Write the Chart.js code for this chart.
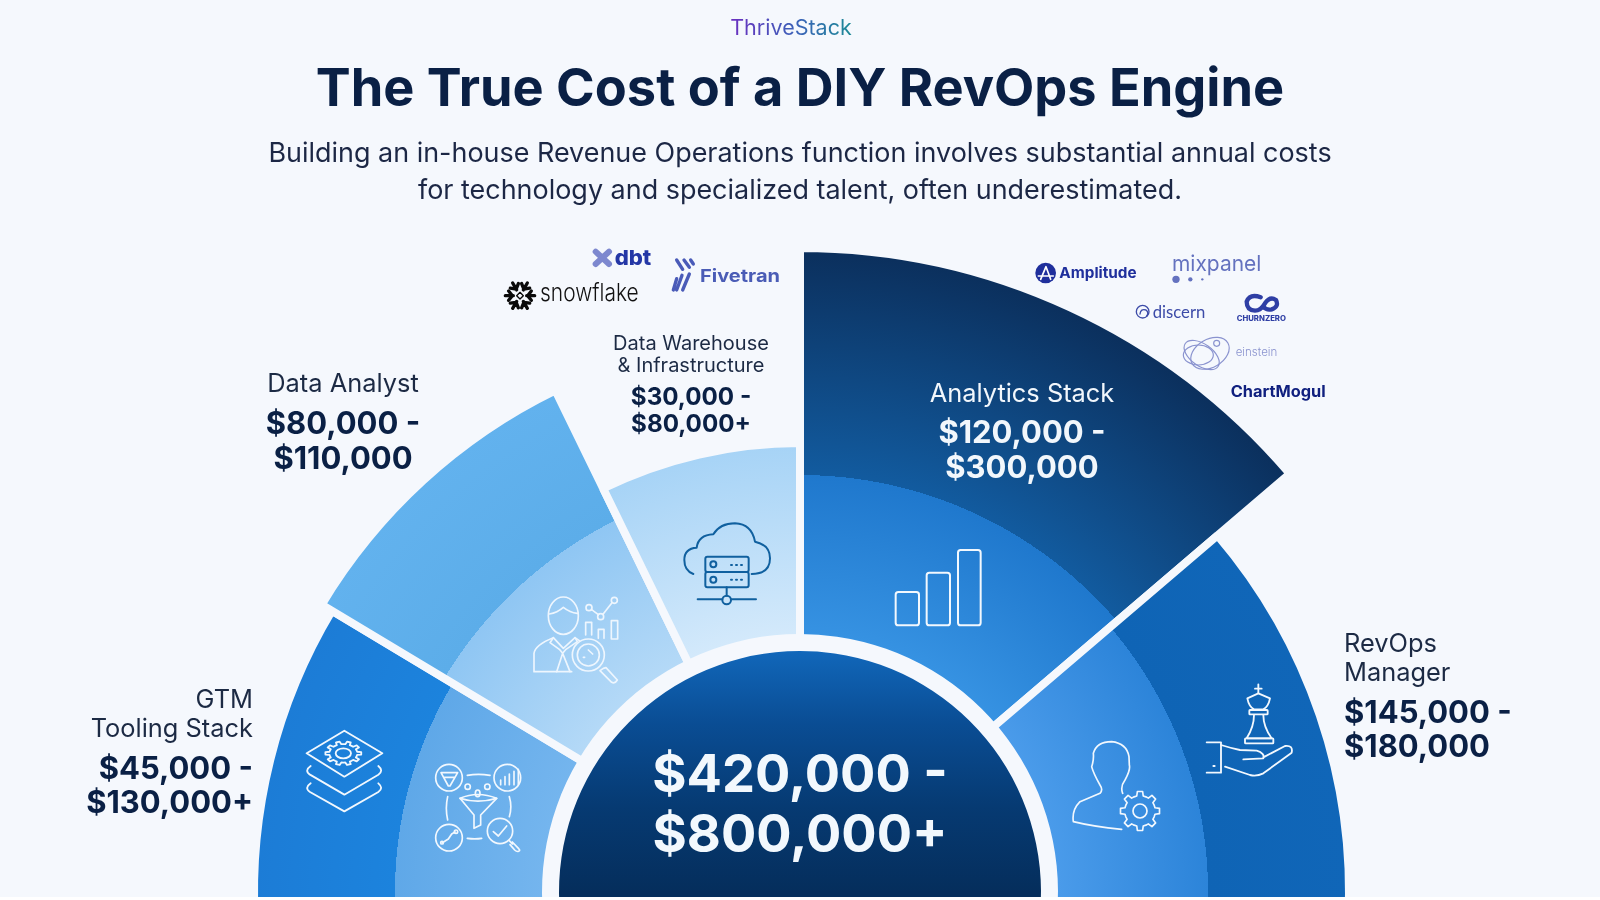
<!DOCTYPE html>
<html>
<head>
<meta charset="utf-8">
<title>The True Cost of a DIY RevOps Engine</title>
<script src="https://cdn.jsdelivr.net/npm/chart.js@4"></script>
<style>
  html, body { margin: 0; width: 1600px; height: 900px; overflow: hidden; background: #fff; font-family: Inter, sans-serif; }
  #page { position: absolute; left: 0; top: 0; width: 1600px; height: 897px; overflow: hidden; background: #f5f8fd; }
  #fan { position: absolute; left: 0; top: 0; }
  #art { position: absolute; left: 0; top: 0; }
  .t { position: absolute; white-space: nowrap; line-height: 1; color: #0a2045; }
  .mid { transform: translate(-50%, -50%); text-align: center; }
  .end { transform: translate(-100%, -50%); text-align: right; }
  .start { transform: translateY(-50%); }
  #brand { left: 791px; top: 28px; font-size: 21.5px; background: linear-gradient(90deg, #6a2fc0, #3a62b8 55%, #1c8a96);
    -webkit-background-clip: text; background-clip: text; color: transparent; }
  #title { left: 800px; top: 87px; font-size: 52.3px; font-weight: 700; }
  .sub { font-size: 26.95px; color: #1c2745; }
  .name { font-size: 25.4px; color: #1c2a44; }
  .cost { font-size: 31px; font-weight: 700; }
  .small.name { font-size: 20px; }
  .small.cost { font-size: 24.2px; }
  .light { color: #f2f7fc; }
  .total { font-size: 52.4px; font-weight: 700; color: #f2f8fd; }
</style>
</head>
<body>
<div id="page">
  <canvas id="fan" width="1600" height="1784"></canvas>
  <svg id="art" width="1600" height="897" viewBox="0 0 1600 897" fill="none"></svg>
  <div id="brand" class="t mid">ThriveStack</div>
  <div id="title" class="t mid">The True Cost of a DIY RevOps Engine</div>
  <div class="t mid sub" style="left:800px;top:153px">Building an in-house Revenue Operations function involves substantial annual costs</div>
  <div class="t mid sub" style="left:800px;top:190px">for technology and specialized talent, often underestimated.</div>
  <div class="t mid total" style="left:800px;top:773px">$420,000 -</div>
  <div class="t mid total" style="left:800px;top:833px">$800,000+</div>
</div>
<script>
const categories = ['GTM Tooling Stack', 'Data Analyst', 'Data Warehouse & Infrastructure', 'Analytics Stack', 'RevOps Manager'];
const costLow = ['$45,000 -', '$80,000 -', '$30,000 -', '$120,000 -', '$145,000 -'];
const costHigh = ['$130,000+', '$110,000', '$80,000+', '$300,000', '$180,000'];
// how far each slice reaches, and where its inner band stops
const reach = [546, 558, 449, 644, 549];
const bandReach = [405, 415, 0, 417, 408];
// angular width of each slice in degrees, left to right
const span = [34, 33, 26, 49.5, 43.5];
const totalDisc = [241];
const haloDisc = [258];

const innerColors = [['#74b5ee', '#5fa8e8'], ['#b4d9f7', '#8fc6f3'], null, ['#3692e2', '#1f78cd'], ['#4a9bea', '#2c84d9']];
const outerColors = [['#1c83dd', '#1c7cd6'], ['#5cade9', '#62b2ee'], ['#d3e9fb', '#a6d3f6'], ['#125b9f', '#0b2f5c'], ['#0f64b5', '#1066b8']];
const gapColor = '#f5f8fd';

function scaleReady(r) {
  return r && Number.isFinite(r.yCenter) && r.drawingArea > 0;
}

function sliceFill(ctx) {
  const r = ctx.chart.scales.r;
  if (!scaleReady(r) || ctx.dataIndex === undefined) return '#888';
  const i = ctx.dataIndex;
  const dist = v => r.getDistanceFromCenterForValue(v);
  const outerR = dist(reach[i]);
  const g = ctx.chart.ctx.createRadialGradient(r.xCenter, r.yCenter, 0, r.xCenter, r.yCenter, outerR);
  const haloStop = dist(haloDisc[0]) / outerR;
  if (innerColors[i]) {
    const stop = dist(bandReach[i]) / outerR;
    g.addColorStop(haloStop, innerColors[i][0]);
    g.addColorStop(stop, innerColors[i][1]);
    g.addColorStop(stop, outerColors[i][0]);
    g.addColorStop(1, outerColors[i][1]);
  } else {
    g.addColorStop(haloStop, outerColors[i][0]);
    g.addColorStop(1, outerColors[i][1]);
  }
  return g;
}

function discFill(ctx) {
  const r = ctx.chart.scales.r;
  if (!scaleReady(r)) return '#063a74';
  const top = r.yCenter - r.getDistanceFromCenterForValue(totalDisc[0]);
  const g = ctx.chart.ctx.createLinearGradient(0, top, 0, r.yCenter);
  g.addColorStop(0, '#1167ba');
  g.addColorStop(0.3, '#0a4d94');
  g.addColorStop(0.65, '#063a72');
  g.addColorStop(1, '#052e5c');
  return g;
}

new Chart(document.getElementById('fan'), {
  type: 'polarArea',
  data: {
    labels: categories,
    datasets: [
      { data: totalDisc, angle: 360, backgroundColor: discFill, borderWidth: 0 },
      { data: haloDisc, angle: 360, backgroundColor: gapColor, borderWidth: 0 },
      { data: reach, angle: ctx => span[ctx.dataIndex], backgroundColor: sliceFill, borderColor: gapColor, borderWidth: 8 },
    ],
  },
  options: {
    responsive: false,
    animation: false,
    layout: { padding: 0 },
    plugins: { legend: { display: false }, tooltip: { enabled: false } },
    scales: {
      r: {
        display: false,
        min: 0,
        max: 800,
        startAngle: -93,
        pointLabels: { display: false },
        ticks: { display: false },
      },
    },
  },
});

// cost labels around the fan
const page = document.getElementById('page');
const spots = [
  { cls: 'end', x: 253, name: [699, 728], cost: [767, 801], lines: ['GTM', 'Tooling Stack'] },
  { cls: 'mid', x: 343, name: [383], cost: [422, 457], lines: ['Data Analyst'] },
  { cls: 'mid small', x: 691, name: [343, 365], cost: [397, 424], lines: ['Data Warehouse', '& Infrastructure'] },
  { cls: 'mid light', x: 1022, name: [393], cost: [431, 466], lines: ['Analytics Stack'] },
  { cls: 'start', x: 1344, name: [643, 672], cost: [711, 745], lines: ['RevOps', 'Manager'] },
];
function addText(text, cls, x, y) {
  const d = document.createElement('div');
  d.className = 't ' + cls;
  d.style.left = x + 'px';
  d.style.top = y + 'px';
  d.textContent = text;
  page.appendChild(d);
}
spots.forEach((s, i) => {
  s.lines.forEach((l, k) => addText(l, s.cls + ' name', s.x, s.name[k]));
  addText(costLow[i], s.cls + ' cost', s.x, s.cost[0]);
  addText(costHigh[i], s.cls + ' cost', s.x, s.cost[1]);
});

// outlined gear, squash < 1 flattens it for the isometric one
function gear(cx, cy, rOut, rIn, teeth, squash) {
  let d = '';
  const step = Math.PI * 2 / teeth;
  for (let t = 0; t < teeth; t++) {
    const a = t * step;
    const pts = [[rIn, a - step * 0.5], [rIn, a - step * 0.27], [rOut, a - step * 0.17], [rOut, a + step * 0.17], [rIn, a + step * 0.27]];
    pts.forEach(([r, an], k) => {
      d += (t === 0 && k === 0 ? 'M' : 'L') + (cx + r * Math.cos(an)).toFixed(1) + ' ' + (cy + r * squash * Math.sin(an)).toFixed(1);
    });
  }
  return d + 'Z';
}

const stackIcon = `
  <path d="M193 92L307 160L193 230L80 160Z"/>
  <path d="${gear(190, 160, 54, 42, 10, 0.66)}"/>
  <ellipse cx="190" cy="160" rx="23" ry="15"/>
  <path d="M92 198Q72 212 90 224L193 284L295 224Q312 212 295 198"/>
  <path d="M92 250Q72 264 90 276L193 334L295 276Q312 264 295 250"/>`;

const funnelIcon = `
  <circle cx="507" cy="233" r="40"/><circle cx="682" cy="233" r="40"/><circle cx="507" cy="413" r="40"/><circle cx="660" cy="393" r="38"/>
  <path d="M483 218L533 218L510 258L505 258ZM492 232L524 232"/>
  <path d="M662 240V254M675 230V254M688 222V254M702 214V254M715 208V254"/>
  <path d="M487 428L505 417L515 402L525 396"/><circle cx="486" cy="428" r="4"/><circle cx="528" cy="395" r="5"/>
  <path d="M640 395L655 408L680 378"/>
  <path d="M688 422L697 432M697 426L716 446Q722 452 716 454Q710 456 704 450L690 434"/>
  <path d="M540 295Q593 272 650 295L602 345V375L582 385V345Z"/><path d="M540 295Q593 312 650 295"/>
  <circle cx="563" cy="260" r="8"/><circle cx="622" cy="260" r="8"/><ellipse cx="593" cy="280" rx="7" ry="10"/>
  <path d="M562 226Q595 220 630 226M562 415Q585 418 605 415M503 290Q495 325 503 360M688 290Q697 320 688 350"/>`;

const analystIcon = `
  <ellipse cx="130" cy="347" rx="45" ry="56"/>
  <path d="M88 342Q112 338 130 322Q150 338 172 340"/>
  <path d="M155 515H42V460Q45 435 100 413L130 445L165 413L178 422"/>
  <path d="M118 448L128 460L110 515M138 448L128 460L150 515M100 413L90 428L118 448M165 413L172 425L138 448"/>
  <circle cx="205" cy="465" r="48"/><circle cx="205" cy="465" r="33"/>
  <path d="M250 505L240 512L275 547Q285 552 292 540L258 503Z"/>
  <path d="M214 328L235 344M249 343L276 308"/><circle cx="207" cy="323" r="9"/><circle cx="242" cy="350" r="9"/><circle cx="283" cy="301" r="9"/>
  <path d="M197 405V367H215V405M235 415V388H252V415"/><rect x="274" y="362" width="19" height="55"/>
  <path d="M205 450L218 462M190 472h4"/>`;

const cloudIcon = `
  <path d="M520 222Q493 212 493 180Q493 145 530 143Q535 105 580 103Q600 70 645 70Q695 72 705 125Q750 135 750 175Q750 222 695 222"/>
  <rect x="556" y="170" width="130" height="46" rx="6"/><rect x="556" y="216" width="130" height="46" rx="6"/>
  <circle cx="580" cy="193" r="9"/><circle cx="580" cy="239" r="9"/>
  <path d="M633 195H636M648 195H651M663 195H666M633 239H636M648 239H651M663 239H666"/>
  <path d="M620 262V287M533 298H607M634 298H708"/><circle cx="620" cy="300" r="13"/>`;

const barsIcon = `
  <rect x="77" y="186" width="70" height="100" rx="8"/><rect x="170" y="128" width="70" height="158" rx="8"/><rect x="264" y="60" width="68" height="226" rx="8"/>`;

const managerIcon = `
  <path d="M215 478Q130 470 70 455Q65 420 90 395L150 370Q160 360 150 345Q130 310 125 290Q132 270 130 250Q140 215 185 215Q230 220 237 260L238 285Q242 300 225 330Q210 350 218 370"/>
  <path d="${gear(270, 423, 59, 46, 8, 1)}"/><circle cx="270" cy="423" r="21"/>`;

const kingIcon = `
  <path d="M625 43V70M615 56H635"/>
  <path d="M592 85L625 70L660 85Q655 110 640 118H612Q597 110 592 85Z"/><rect x="598" y="120" width="55" height="13" rx="2"/>
  <path d="M612 135Q612 170 590 205H665Q640 170 640 135"/><rect x="585" y="205" width="85" height="15" rx="2"/>
  <path d="M470 217H513V308H470"/>
  <path d="M513 225Q545 235 570 240L620 242Q645 250 640 265L580 268M640 262L705 228Q730 225 725 248L640 310Q620 320 600 315L525 290"/>
  <path d="M490 288h4"/>`;

const spokes = [30, 90, 150, 210, 270, 330].map(a =>
  `<g transform="rotate(${a} 120 197)"><path d="M120 177V153M106 163L120 174L134 163" stroke="#0a0a0a" stroke-width="10"/></g>`).join('');

const logosLeft = `
  ${spokes}<path d="M120 187L130 197L120 207L110 197Z" stroke="#0a0a0a" stroke-width="4"/>
  <text x="180" y="213" font-size="72" font-weight="300" fill="#111" font-family="Inter" textLength="296" lengthAdjust="spacingAndGlyphs">snowflake</text>
  <path d="M347 65L387 102M387 65L347 102" stroke="#7d88cf" stroke-width="18"/>
  <text x="404" y="105" font-size="62" font-weight="800" fill="#2437a6" font-family="Inter" textLength="110" lengthAdjust="spacingAndGlyphs">dbt</text>
  <path d="M590 90L608 118M612 90L628 112M632 90L640 102M628 132L608 180M606 136L590 180M590 146L580 180" stroke="#4a5bb8" stroke-width="10"/>
  <text x="660" y="155" font-size="52" font-weight="700" fill="#4a5cb6" font-family="Inter" textLength="240" lengthAdjust="spacingAndGlyphs">Fivetran</text>`;

const logosRight = `
  <circle cx="77" cy="99" r="31" fill="#1f2f9c"/><path d="M55 108H100M62 118L78 80L92 118" stroke="#fff" stroke-width="5"/>
  <text x="118" y="115" font-size="45" font-weight="700" fill="#1f2f9c" font-family="Inter" textLength="232" lengthAdjust="spacingAndGlyphs">Amplitude</text>
  <text x="456" y="92" font-size="66" font-weight="400" fill="#6472bf" font-family="Inter" textLength="268" lengthAdjust="spacingAndGlyphs">mixpanel</text>
  <circle cx="468" cy="118" r="11" fill="#6472bf"/><circle cx="511" cy="118" r="6.5" fill="#6472bf"/><circle cx="547" cy="118" r="3.5" fill="#6472bf"/>
  <circle cx="368" cy="215" r="19" stroke="#3c4ba8" stroke-width="4"/><path d="M360 222Q362 205 378 210Q388 218 380 228" stroke="#3c4ba8" stroke-width="4"/>
  <text x="398" y="233" font-size="52" font-weight="400" fill="#3c4ba8" font-family="Lato" textLength="158" lengthAdjust="spacingAndGlyphs">discern</text>
  <path d="M722 172Q690 160 680 185Q680 210 705 212Q722 212 735 190Q750 168 768 180Q778 200 755 208Q740 212 730 200" stroke="#2f3fa5" stroke-width="13"/>
  <text x="650" y="243" font-size="21" font-weight="800" fill="#2f3fa5" font-family="Inter" textLength="148" lengthAdjust="spacingAndGlyphs">CHURNZERO</text>
  <g stroke="#8a93cf" stroke-width="3.5"><ellipse cx="545" cy="345" rx="60" ry="33" transform="rotate(35 545 345)"/><ellipse cx="570" cy="340" rx="62" ry="42" transform="rotate(-30 570 340)"/><ellipse cx="535" cy="345" rx="45" ry="30"/><circle cx="590" cy="310" r="9"/></g>
  <text x="647" y="348" font-size="35" font-weight="300" fill="#8a93cf" font-family="Inter" textLength="125" lengthAdjust="spacingAndGlyphs">einstein</text>
  <text x="632" y="472" font-size="47" font-weight="700" fill="#10207f" font-family="Inter" textLength="285" lengthAdjust="spacingAndGlyphs">ChartMogul</text>`;

const art = document.getElementById('art');
function icon(markup, x, y, k, color, width) {
  return `<g transform="translate(${x} ${y}) scale(${k})" stroke="${color}" stroke-width="${width}" stroke-linecap="round" stroke-linejoin="round">${markup}</g>`;
}
const third = 1 / 3;
art.innerHTML =
  icon(stackIcon, 280, 700, third, '#f2f8fe', 5.5) +
  icon(funnelIcon, 280, 700, third, '#f2f8fe', 5) +
  icon(analystIcon, 520, 500, third, '#eef6fe', 5) +
  icon(cloudIcon, 520, 500, third, '#10609f', 6) +
  icon(barsIcon, 870, 530, third, '#f2f8fe', 6) +
  icon(managerIcon, 1050, 670, third, '#f2f8fe', 5) +
  icon(kingIcon, 1050, 670, third, '#f2f8fe', 5.5) +
  icon(logosLeft, 480, 230, third, 'none', 0) +
  icon(logosRight, 1020, 240, third, 'none', 0);
</script>
</body>
</html>
